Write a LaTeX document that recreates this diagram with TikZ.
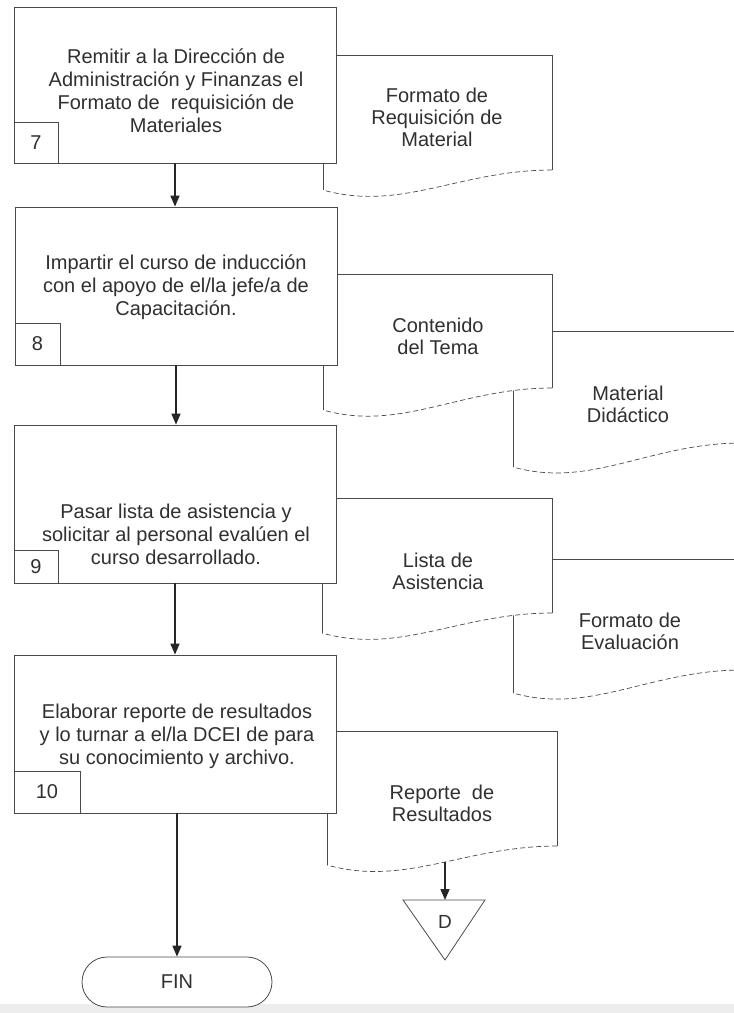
\documentclass[tikz,border=0pt]{standalone}
\usepackage{fontspec}
\setmainfont{Liberation Sans}
\usetikzlibrary{arrows.meta}
\definecolor{lc}{HTML}{4A4A4A}
\definecolor{tc}{HTML}{303030}
\tikzset{
  stepbox/.style={draw=lc, line width=0.8pt, fill=white, rectangle, inner sep=0pt},
  numbox/.style={draw=lc, line width=0.8pt, fill=white, rectangle, inner sep=0pt, anchor=south west, text=tc, font=\fontsize{20}{23}\selectfont},
  txt/.style={text=tc, align=center, inner sep=0pt, font=\fontsize{20}{23}\selectfont},
  doctxt/.style={text=tc, align=center, inner sep=0pt, font=\fontsize{20}{22}\selectfont},
  docline/.style={draw=lc, line width=0.7pt},
  docwave/.style={draw=lc, line width=0.7pt, dash pattern=on 5pt off 3pt},
  flow/.style={draw=black!85, line width=1.6pt, -{Triangle[width=9pt,length=11pt]}},
  endbox/.style={draw=lc, line width=0.8pt, fill=white, rounded corners=25pt, minimum width=190pt, minimum height=50pt, text=tc, font=\fontsize{20}{23}\selectfont}
}
\begin{document}
\begin{tikzpicture}[x=1pt,y=-1pt]
\useasboundingbox (0,0) rectangle (734,1013);
\clip (0,0) rectangle (734,1013);
\fill[white] (0,0) rectangle (734,1013);
\fill[gray!14] (0,1004) rectangle (734,1013);

% ---------- documents (behind) ----------
% doc 1
\fill[white] (323,55) -- (552,55) -- (552,170) .. controls (460,170) and (401,212) .. (323,190) -- cycle;
\draw[docline] (323,190) -- (323,55) -- (552,55) -- (552,170);
\draw[docwave] (552,170) .. controls (460,170) and (401,212) .. (323,190);
\node[doctxt] (d1) at (437,117) {Formato de\\Requisición de\\Material};

% doc 3
\fill[white] (513,331) -- (742,331) -- (742,443) .. controls (650,443) and (591,489) .. (513,467) -- cycle;
\draw[docline] (513,467) -- (513,331) -- (742,331) -- (742,443);
\draw[docwave] (742,443) .. controls (650,443) and (591,489) .. (513,467);
\node[doctxt] (d3) at (628,404) {Material\\Didáctico};

% doc 2
\fill[white] (323,274) -- (552,274) -- (552,388) .. controls (460,388) and (401,432) .. (323,410) -- cycle;
\draw[docline] (323,410) -- (323,274) -- (552,274) -- (552,388);
\draw[docwave] (552,388) .. controls (460,388) and (401,432) .. (323,410);
\node[doctxt] (d2) at (438,336) {Contenido\\del Tema};

% doc 5
\fill[white] (513,559) -- (742,559) -- (742,670) .. controls (650,670) and (591,715) .. (513,693) -- cycle;
\draw[docline] (513,693) -- (513,559) -- (742,559) -- (742,670);
\draw[docwave] (742,670) .. controls (650,670) and (591,715) .. (513,693);
\node[doctxt] (d5) at (630,631) {Formato de\\Evaluación};

% doc 4
\fill[white] (322,498) -- (552,498) -- (552,613) .. controls (460,613) and (400,655) .. (322,633) -- cycle;
\draw[docline] (322,633) -- (322,498) -- (552,498) -- (552,613);
\draw[docwave] (552,613) .. controls (460,613) and (400,655) .. (322,633);
\node[doctxt] (d4) at (438,571) {Lista de\\Asistencia};

% doc 6
\fill[white] (327,731) -- (557,731) -- (557,846) .. controls (465,846) and (405,887) .. (327,865) -- cycle;
\draw[docline] (327,865) -- (327,731) -- (557,731) -- (557,846);
\draw[docwave] (557,846) .. controls (465,846) and (405,887) .. (327,865);
\node[doctxt] (d6) at (442,803) {Reporte~ de\\Resultados};
\coordinate (d6b) at (445,862);

% ---------- process boxes ----------
\node[stepbox, minimum width=322pt, minimum height=156pt] (b7) at (175,85) {};
\node[txt] (t7) at (176,91) {Remitir a la Dirección de\\Administración y Finanzas el\\Formato de~ requisición de\\Materiales};
\node[numbox, minimum width=44pt, minimum height=41pt] (n7) at (b7.south west) {7};

\node[stepbox, minimum width=322pt, minimum height=158pt] (b8) at (176,286) {};
\node[txt] (t8) at (176,287) {Impartir el curso de inducción\\con el apoyo de el/la jefe/a de\\Capacitación.};
\node[numbox, minimum width=45pt, minimum height=42pt] (n8) at (b8.south west) {8};

\node[stepbox, minimum width=322pt, minimum height=158pt] (b9) at (175,504) {};
\node[txt] (t9) at (176,534) {Pasar lista de asistencia y\\solicitar al personal evalúen el\\curso desarrollado.};
\node[numbox, minimum width=44pt, minimum height=33pt] (n9) at (b9.south west) {9};

\node[stepbox, minimum width=322pt, minimum height=158pt] (b10) at (175,734) {};
\node[txt] (t10) at (177,736) {Elaborar reporte de resultados\\y lo turnar a el/la DCEI de para\\su conocimiento y archivo.};
\node[numbox, minimum width=66pt, minimum height=42pt] (n10) at (b10.south west) {10};

% ---------- terminators ----------
\node[endbox] (fin) at (177,982) {FIN};
\draw[draw=lc, line width=0.8pt, fill=white] (403,900) -- (485,900) -- (445,960) -- cycle;
\node[txt, font=\fontsize{19}{20}\selectfont] (offD) at (445,922) {D};
\coordinate (tritop) at (445,900);

% ---------- connectors ----------
\draw[flow] (b7.south) -- (b7.south |- b8.north);
\draw[flow] (b8.south) -- (b8.south |- b9.north);
\draw[flow] (b9.south) -- (b9.south |- b10.north);
\draw[flow] (b10.south -| fin.north) -- (fin.north);
\draw[flow] (d6b) -- (tritop);
\end{tikzpicture}
\end{document}
